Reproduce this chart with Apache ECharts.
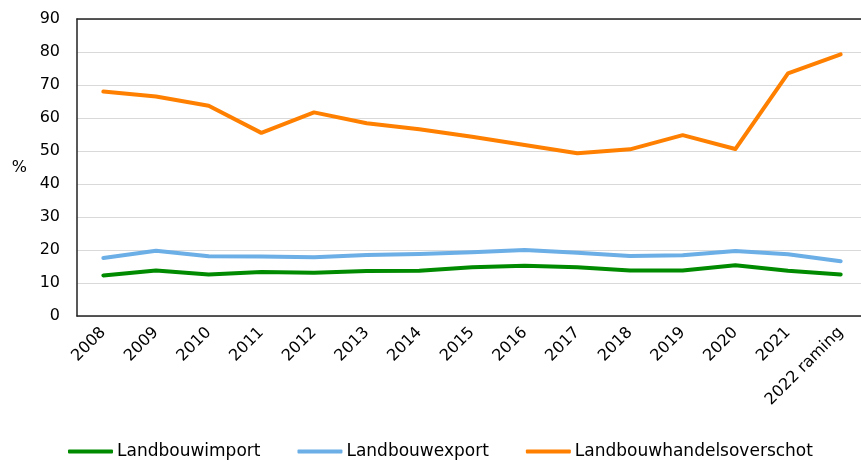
<!DOCTYPE html>
<html>
<head>
<meta charset="utf-8">
<script src="https://cdn.jsdelivr.net/npm/echarts@6/dist/echarts.min.js"></script>
<style>
  html, body { margin: 0; padding: 0; background: #fff; overflow: hidden; }
  #wrap { width: 861px; height: 460px; overflow: hidden; }
  #chart { width: 867px; height: 460px; }
</style>
</head>
<body>
<div id="wrap"><div id="chart"></div></div>
<script>
var years = ['2008', '2009', '2010', '2011', '2012', '2013', '2014', '2015',
             '2016', '2017', '2018', '2019', '2020', '2021', '2022 raming'];
var landbouwimport = [12.3, 13.8, 12.6, 13.3, 13.1, 13.6, 13.7, 14.8, 15.2, 14.8, 13.8, 13.8, 15.4, 13.7, 12.6];
var landbouwexport = [17.6, 19.8, 18.1, 18.0, 17.8, 18.5, 18.8, 19.3, 20.0, 19.2, 18.2, 18.4, 19.7, 18.7, 16.6];
var overschot = [68.0, 66.5, 63.7, 55.5, 61.7, 58.4, 56.6, 54.3, 51.8, 49.3, 50.5, 54.8, 50.6, 73.5, 79.3];

var font = 'DejaVu Sans';
var chart = echarts.init(document.getElementById('chart'));

function line(name, data, color) {
    return {
        name: name,
        type: 'line',
        data: data,
        symbol: 'none',
        lineStyle: { width: 4, color: color, cap: 'round', join: 'round' },
        itemStyle: { color: color }
    };
}

var axisLine = { show: true, lineStyle: { color: '#222', width: 1.5 } };

var option = {
    animation: false,
    textStyle: { fontFamily: font, color: '#000' },
    // plot area runs a few px past the right edge of the 861px window
    grid: { left: 77, right: 0, top: 19, bottom: 144 },
    legend: {
        top: 438,
        left: 63,
        itemWidth: 45,
        itemHeight: 4,
        itemGap: 37,
        icon: 'roundRect',
        textStyle: { fontFamily: font, fontSize: 17, color: '#000', padding: [0, 0, 0, -1] },
        data: ['Landbouwimport', 'Landbouwexport', 'Landbouwhandelsoverschot']
    },
    xAxis: [{
        type: 'category',
        data: years,
        axisLine: axisLine,
        axisTick: { show: false },
        axisLabel: { rotate: 45, fontSize: 16, color: '#000', fontFamily: font, margin: 14 }
    }, {
        // top border only
        type: 'category',
        position: 'top',
        data: years,
        axisLine: axisLine,
        axisTick: { show: false },
        axisLabel: { show: false }
    }],
    yAxis: {
        type: 'value',
        min: 0, max: 90, interval: 10,
        name: '%',
        nameLocation: 'middle',
        nameRotate: 0,
        nameGap: 50,
        nameTextStyle: { fontSize: 16, color: '#000', fontFamily: font },
        axisLine: axisLine,
        axisTick: { show: false },
        axisLabel: { fontSize: 16, color: '#000', fontFamily: font, margin: 17 },
        splitLine: { lineStyle: { color: '#d9d9d9', width: 1 } }
    },
    series: [
        line('Landbouwimport', landbouwimport, '#008a00'),
        line('Landbouwexport', landbouwexport, '#6caee6'),
        line('Landbouwhandelsoverschot', overschot, '#ff8000')
    ]
};
chart.setOption(option);
</script>
</body>
</html>
